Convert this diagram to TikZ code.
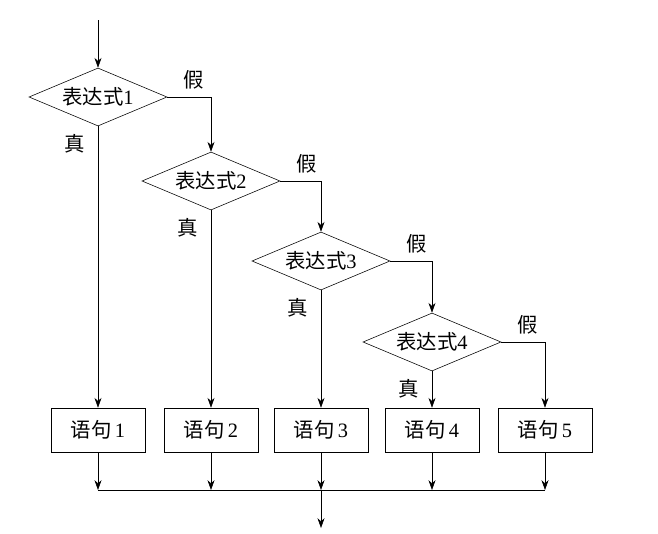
\documentclass[tikz,border=0pt]{standalone}
\usepackage{fontspec}
\setmainfont{Liberation Serif}
\newfontfamily\cjk{Noto Sans CJK SC}
\usetikzlibrary{shapes.geometric,arrows.meta}
\begin{document}
\begin{tikzpicture}[
        x=0.025cm, y=-0.025cm,
        font=\fontsize{14.5}{16}\selectfont,
        cond/.style={diamond,draw,inner sep=0pt,aspect=2.3,minimum width=3.45cm,minimum height=1.45cm},
        stmt/.style={rectangle,draw,minimum width=2.35cm,minimum height=1.1cm},
        flow/.style={-{Stealth[length=7pt,width=5pt]}}
    ]
    \useasboundingbox (0,0) rectangle (658,533);

    % Entry
    \coordinate (start) at (98,20);

    % Conditions and statements
    \foreach \i/\cx/\cy in {1/98/97, 2/211/181, 3/321/261, 4/432/342}
        \node[cond] (c\i) at (\cx,\cy) {{\cjk 表达式}\i};
    \foreach \i/\bx in {1/98, 2/211, 3/321, 4/432, 5/545}
        \node[stmt] (s\i) at (\bx,430) {{\cjk 语句}\,\i};

    % Join line
    \coordinate (jl) at (98,490);
    \coordinate (jr) at (545,490);
    \coordinate (jm) at (321,490);
    \coordinate (out) at (321,528);

    \draw[flow] (start) -- (c1.north);

    % True branches
    \foreach \i in {1,2,3,4}
    {
        \draw[flow] (c\i.south) -- (s\i.north);
        \node[anchor=north east,font=\cjk\fontsize{14.5}{16}\selectfont] at ([xshift=-6pt,yshift=-2pt]c\i.south) {真};
    }

    % False branches
    \draw[flow] (c1.east) -| (c2.north);
    \draw[flow] (c2.east) -| (c3.north);
    \draw[flow] (c3.east) -| (c4.north);
    \draw[flow] (c4.east) -| (s5.north);
    \foreach \i in {1,2,3,4}
        \node[anchor=south west,font=\cjk\fontsize{14.5}{16}\selectfont] at ([xshift=8pt,yshift=2pt]c\i.east) {假};

    % Merge
    \foreach \i in {1,2,3,4,5}
        \draw[flow] (s\i.south) -- (s\i.south |- jl);
    \draw (jl) -- (jr);
    \draw[flow] (jm) -- (out);
\end{tikzpicture}
\end{document}
